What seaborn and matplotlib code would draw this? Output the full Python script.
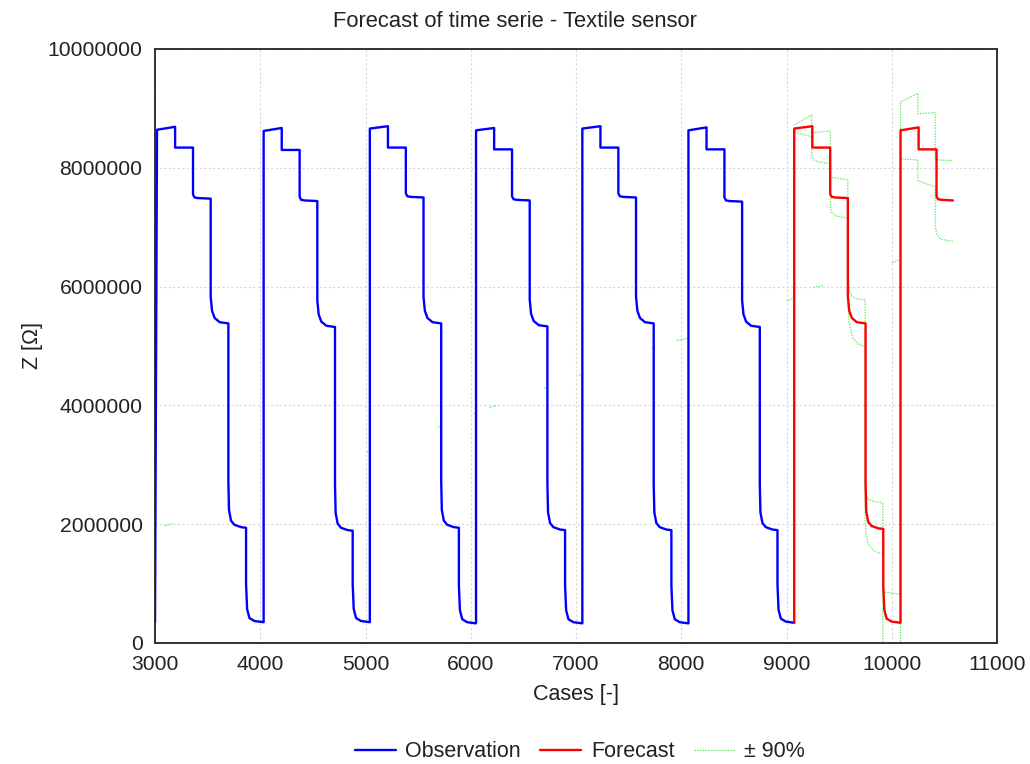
import matplotlib
matplotlib.use("Agg")
import matplotlib.pyplot as plt
import numpy as np
import pandas as pd
import seaborn as sns
from matplotlib.lines import Line2D
from matplotlib.ticker import FuncFormatter

# ---------------- data ----------------
# x positions (cases) where each ~1010-case cycle rises to its top plateau
obs_cycle_starts = [3019, 4032, 5041, 6050, 7060, 8068]
fc_cycle_starts = [9073, 10083]
# start of each of the 6 plateaus inside a cycle (cases after the rise)
step_offsets = [0, 172, 342, 510, 678, 846]
obs_first_x, obs_first_y = 3000, 0.35      # series starts low before first rise
obs_end = 9073
fc_end = 10581

# plateau levels per cycle, MOhm
obs_top_start = [8.64, 8.62, 8.66, 8.63, 8.66, 8.63]
obs_top_end = [8.69, 8.67, 8.70, 8.67, 8.70, 8.68]
obs_step2 = [8.34, 8.30, 8.34, 8.31, 8.34, 8.31]
obs_step3 = [7.48, 7.44, 7.50, 7.45, 7.50, 7.43]
obs_step4 = [5.38, 5.32, 5.38, 5.33, 5.38, 5.32]
obs_step5 = [1.94, 1.89, 1.94, 1.90, 1.90, 1.90]
obs_step6 = [0.35, 0.35, 0.33, 0.33, 0.33, 0.34]

fc_top_start = [8.66, 8.63]
fc_top_end = [8.70, 8.68]
fc_step2 = [8.34, 8.31]
fc_step3 = [7.49, 7.45]
fc_step4 = [5.38]
fc_step5 = [1.92]
fc_step6 = [0.34]

# decay right after each drop: (cases after drop, excess over plateau level in MOhm)
shape_step3 = [(0, 0.07), (15, 0.02), (47, 0.01)]
shape_step4 = [(0, 0.45), (13, 0.21), (38, 0.09), (86, 0.02)]
shape_step5 = [(0, 0.78), (6, 0.30), (25, 0.12), (57, 0.05), (120, 0.01)]
shape_step6 = [(0, 0.64), (10, 0.22), (32, 0.07), (79, 0.02)]

# +/- 90 % band around the forecast (cases, MOhm)
upper_x = [9073, 9239, 9239, 9416, 9416, 9582, 9582, 9595, 9620, 9670, 9747,
           9747, 9753, 9775, 9830, 9915, 9915, 10083, 10083, 10248, 10248,
           10413, 10413, 10425, 10460, 10581]
upper_y = [8.72, 8.89, 8.59, 8.62, 7.84, 7.80, 6.14, 5.95, 5.84, 5.79, 5.78,
           2.60, 2.50, 2.42, 2.38, 2.36, 0.86, 0.82, 9.11, 9.25, 8.91,
           8.93, 8.17, 8.14, 8.13, 8.12]
lower_x = [9073, 9239, 9239, 9260, 9300, 9416, 9416, 9430, 9470, 9582, 9582,
           9595, 9625, 9680, 9747, 9747, 9755, 9780, 9830, 9915, 9915, 10083,
           10083, 10248, 10248, 10413, 10413, 10425, 10460, 10581]
lower_y = [8.60, 8.52, 8.18, 8.13, 8.10, 8.07, 7.34, 7.25, 7.19, 7.15, 5.72,
           5.40, 5.15, 5.03, 4.99, 2.10, 1.85, 1.65, 1.55, 1.49, -0.40, -0.40,
           8.15, 8.13, 7.78, 7.68, 7.02, 6.90, 6.80, 6.76]

# faint stray pieces of the dotted band line
stray_x0 = [3090, 3690, 4030, 4705, 5015, 5690, 6030, 6175, 6700, 7030, 7720, 7960, 9010, 9255, 10000]
stray_x1 = [3170, 3700, 4050, 4712, 5060, 5700, 6040, 6245, 6710, 7040, 7730, 8055, 9070, 9360, 10085]
stray_y0 = [1.97, 2.33, 2.56, 3.00, 3.21, 3.63, 3.86, 3.96, 4.28, 4.50, 4.96, 5.09, 5.76, 5.99, 6.40]
stray_y1 = [2.01, 2.36, 2.59, 3.03, 3.25, 3.65, 3.87, 4.00, 4.30, 4.52, 4.98, 5.13, 5.81, 6.02, 6.46]

x_ticks = [3000, 4000, 5000, 6000, 7000, 8000, 9000, 10000, 11000]
y_ticks = [0, 2000000, 4000000, 6000000, 8000000, 10000000]


def cycle_points(x0, x_next, top_a, top_b, plateaus):
    """plateaus: list of (level, shape) for steps 2..6 that exist in this cycle"""
    bounds = [x0 + o for o in step_offsets[:len(plateaus) + 1]] + [x_next]
    pts = [(bounds[0], top_a), (bounds[1], top_b)]
    for k, (lvl, shape) in enumerate(plateaus):
        a, b = bounds[k + 1], bounds[k + 2]
        pts += [(a + dx, lvl + ex) for dx, ex in shape]
        pts.append((b, lvl))
    return pts


def build(starts, end, ta, tb, s2, s3, s4, s5, s6):
    pts = []
    for i, x0 in enumerate(starts):
        x_next = starts[i + 1] if i + 1 < len(starts) else end
        plats = []
        for lvls, shp in [(s2, [(0, 0.0)]), (s3, shape_step3), (s4, shape_step4),
                          (s5, shape_step5), (s6, shape_step6)]:
            if i < len(lvls):
                plats.append((lvls[i], shp))
        pts += cycle_points(x0, x_next, ta[i], tb[i], plats)
    return pts


obs_pts = [(obs_first_x, obs_first_y)] + build(obs_cycle_starts, obs_end, obs_top_start, obs_top_end,
                                              obs_step2, obs_step3, obs_step4, obs_step5, obs_step6)
fc_pts = [(obs_end, obs_step6[-1])] + build(fc_cycle_starts, fc_end, fc_top_start, fc_top_end,
                                           fc_step2, fc_step3, fc_step4, fc_step5, fc_step6)

obs_df = pd.DataFrame(obs_pts, columns=["x", "y"])
obs_df["y"] *= 1e6
fc_df = pd.DataFrame(fc_pts, columns=["x", "y"])
fc_df["y"] *= 1e6

band_rows = []
for xv, yv in zip(upper_x, upper_y):
    band_rows.append(("upper", xv, yv * 1e6))
for xv, yv in zip(lower_x, lower_y):
    band_rows.append(("lower", xv, yv * 1e6))
for i, (a, b, c, d) in enumerate(zip(stray_x0, stray_x1, stray_y0, stray_y1)):
    band_rows.append((f"s{i}", a, c * 1e6))
    band_rows.append((f"s{i}", b, d * 1e6))
band_df = pd.DataFrame(band_rows, columns=["unit", "x", "y"])

# ---------------- style ----------------
sns.set_style("white")
plt.rcParams["font.family"] = ["Liberation Sans", "DejaVu Sans"]
txt = "#222222"

fig, ax = plt.subplots(figsize=(10.30, 7.64), dpi=100)
fig.subplots_adjust(left=0.1505, right=0.968, top=0.9359, bottom=0.1584)

blue = "#0000ff"
red = "#ff0000"
green = "#66ee66"

sns.lineplot(data=band_df, x="x", y="y", units="unit", estimator=None, sort=False,
             color=green, lw=0.9, linestyle=(0, (1.2, 1.0)), ax=ax, zorder=2)
sns.lineplot(data=obs_df, x="x", y="y", estimator=None, sort=False,
             color=blue, lw=1.7, ax=ax, zorder=3)
sns.lineplot(data=fc_df, x="x", y="y", estimator=None, sort=False,
             color=red, lw=1.7, ax=ax, zorder=3)

ax.set_xlim(x_ticks[0], x_ticks[-1])
ax.set_ylim(y_ticks[0], y_ticks[-1])
ax.set_xticks(x_ticks)
ax.set_yticks(y_ticks)
ax.yaxis.set_major_formatter(FuncFormatter(lambda v, p: f"{int(round(v))}"))
ax.xaxis.set_major_formatter(FuncFormatter(lambda v, p: f"{int(round(v))}"))

ax.grid(True, color="#d8d8d8", linestyle=(0, (2, 2)), lw=0.8)
ax.set_axisbelow(True)
for s in ax.spines.values():
    s.set_visible(True)
    s.set_color("#333333")
    s.set_linewidth(1.4)

ax.tick_params(axis="both", direction="in", length=4, width=1, color="#333333",
               labelsize=15.2, labelcolor=txt)
ax.tick_params(axis="y", pad=9)
ax.tick_params(axis="x", pad=9)

fig.suptitle("Forecast of time serie - Textile sensor", x=0.5, y=0.972,
             fontsize=15.8, color=txt, va="center")
ax.set_xlabel("Cases [-]", fontsize=15.5, color=txt, labelpad=7)
ax.set_ylabel("Z [Ω]", fontsize=15.5, color=txt, labelpad=3)

handles = [Line2D([], [], color=blue, lw=1.7),
           Line2D([], [], color=red, lw=1.7),
           Line2D([], [], color=green, lw=0.9, linestyle=(0, (1.2, 1.0)))]
fig.legend(handles, ["Observation", "Forecast", "± 90%"], loc="center",
           bbox_to_anchor=(0.563, 0.016), ncol=3, frameon=False, fontsize=15.5,
           handlelength=1.9, handletextpad=0.45, columnspacing=0.9,
           labelcolor=txt)

fig.savefig("out.png", dpi=100)
